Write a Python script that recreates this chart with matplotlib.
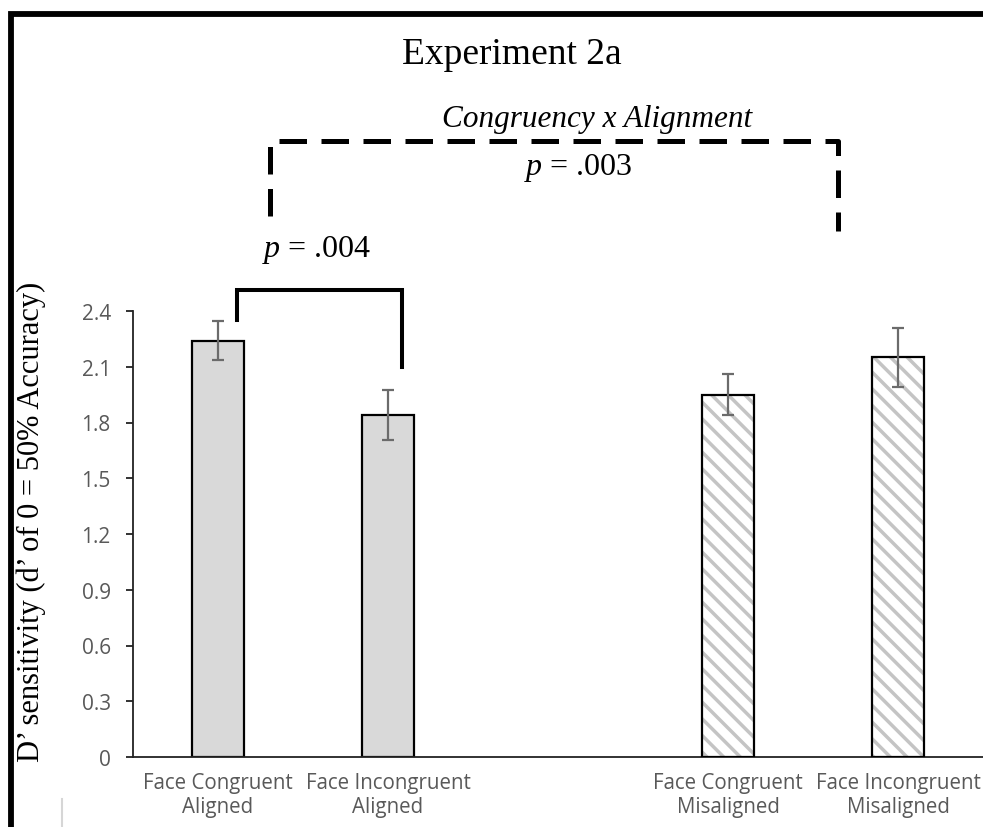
import numpy as np
import matplotlib
matplotlib.use("Agg")
import matplotlib.pyplot as plt
from matplotlib.patches import Rectangle
from matplotlib.lines import Line2D

plt.rcParams['mathtext.fontset'] = 'custom'
plt.rcParams['mathtext.it'] = 'Liberation Serif:italic'
plt.rcParams['mathtext.rm'] = 'Liberation Serif'
plt.rcParams['hatch.linewidth'] = 2.5

# data
conditions = ["Face Congruent", "Face Incongruent", "Face Congruent", "Face Incongruent"]
alignment = ["Aligned", "Aligned", "Misaligned", "Misaligned"]
dprime = [2.24, 1.84, 1.95, 2.15]
sem = [0.105, 0.135, 0.11, 0.16]
yticks = [0, 0.3, 0.6, 0.9, 1.2, 1.5, 1.8, 2.1, 2.4]
ytick_labels = ["0", "0.3", "0.6", "0.9", "1.2", "1.5", "1.8", "2.1", "2.4"]
p_congruency = ".004"
p_interaction = ".003"

W, H = 983, 828
fig = plt.figure(figsize=(W / 100, H / 100), dpi=100)
ax = fig.add_axes([133 / W, 1 - 758 / H, 850 / W, 446 / H])

# aligned group at 0,1 ; misaligned group shifted by one empty slot
group = np.array([0 if a == "Aligned" else 1 for a in alignment])
x = np.arange(len(dprime)) + group
width = 0.31

for xi, v, a in zip(x, dprime, alignment):
    if a == "Aligned":
        ax.bar(xi, v, width, color='#d9d9d9', edgecolor='black', linewidth=1.6, zorder=2)
    else:
        ax.bar(xi, v, width, color='white', edgecolor='#c4c4c4', hatch='\\\\',
               linewidth=0, zorder=2)
        ax.bar(xi, v, width, fill=False, edgecolor='black', linewidth=1.6, zorder=3)

ax.errorbar(x, dprime, yerr=sem, fmt='none', ecolor='#6b6b6b', elinewidth=1.6,
            capsize=4.5, capthick=1.6, zorder=4)

ax.set_xlim(-0.5, 4.5)
ax.set_ylim(0, 2.4)
ax.set_yticks(yticks)
ax.set_yticklabels(ytick_labels)
ax.set_xticks(x)
ax.set_xticklabels([c + "\n" + a for c, a in zip(conditions, alignment)])
for s in ['top', 'right']:
    ax.spines[s].set_visible(False)
for s in ['left', 'bottom']:
    ax.spines[s].set_linewidth(1.3)
    ax.spines[s].set_color('#222222')
ax.tick_params(axis='y', length=5, width=1.3, color='#222222', pad=11,
               labelsize=15, labelcolor='#595959')
ax.tick_params(axis='x', length=0, pad=11, labelsize=14.8, labelcolor='#595959')
for lab in ax.get_xticklabels() + ax.get_yticklabels():
    lab.set_family('Open Sans')
for lab in ax.get_xticklabels():
    lab.set_linespacing(1.2)

ax.set_ylabel("D\u2019 sensitivity (d\u2019 of 0 = 50% Accuracy)", family='Liberation Serif',
              fontsize=22)
ax.yaxis.set_label_coords((46 - 133) / 850, (758 - 522) / 446)

# solid bracket: congruency effect within aligned
y_top = 2.513
xl, xr = x[0] + 0.112, x[1] + 0.082
ax.plot([xl, xl, xr, xr],
        [dprime[0] + sem[0] + 0.005, y_top, y_top, dprime[1] + sem[1] + 0.125],
        color='black', lw=2.9, solid_joinstyle='miter', clip_on=False)
ax.text((xl + xr) / 2 - 0.015, 2.734, "$p$ = " + p_congruency, ha='center', va='center',
        family='Liberation Serif', fontsize=23)

# dashed bracket: interaction
y_dash = 3.315
dl, dr = x[0] + 0.306, x[3] - 0.353
ax.plot([dl, dl, dr, dr], [2.912, y_dash, y_dash, 2.831], color='black', lw=3.6,
        dashes=(5.5, 2.9), clip_on=False)
ax.text(2.118, 3.175, "$p$ = " + p_interaction, ha='center', va='center',
        family='Liberation Serif', fontsize=23)
ax.text(2.229, 3.434, "Congruency x Alignment", ha='center', va='center',
        family='Liberation Serif', style='italic', fontsize=22.5)

fig.text(512 / W, 1 - 55 / H, "Experiment 2a", ha='center', va='center',
         family='Liberation Serif', fontsize=27)

# frame of the original screenshot
fig.patches.append(Rectangle((11 / W, -0.05), 1.2, 1 - 14.5 / H + 0.05,
                             transform=fig.transFigure, fill=False,
                             edgecolor='black', linewidth=4.2))
fig.lines.append(Line2D([62 / W, 62 / W], [0, 1 - 800 / H], transform=fig.transFigure,
                        color='#d6d6d6', linewidth=1.5))

fig.savefig("out.png", dpi=100)
